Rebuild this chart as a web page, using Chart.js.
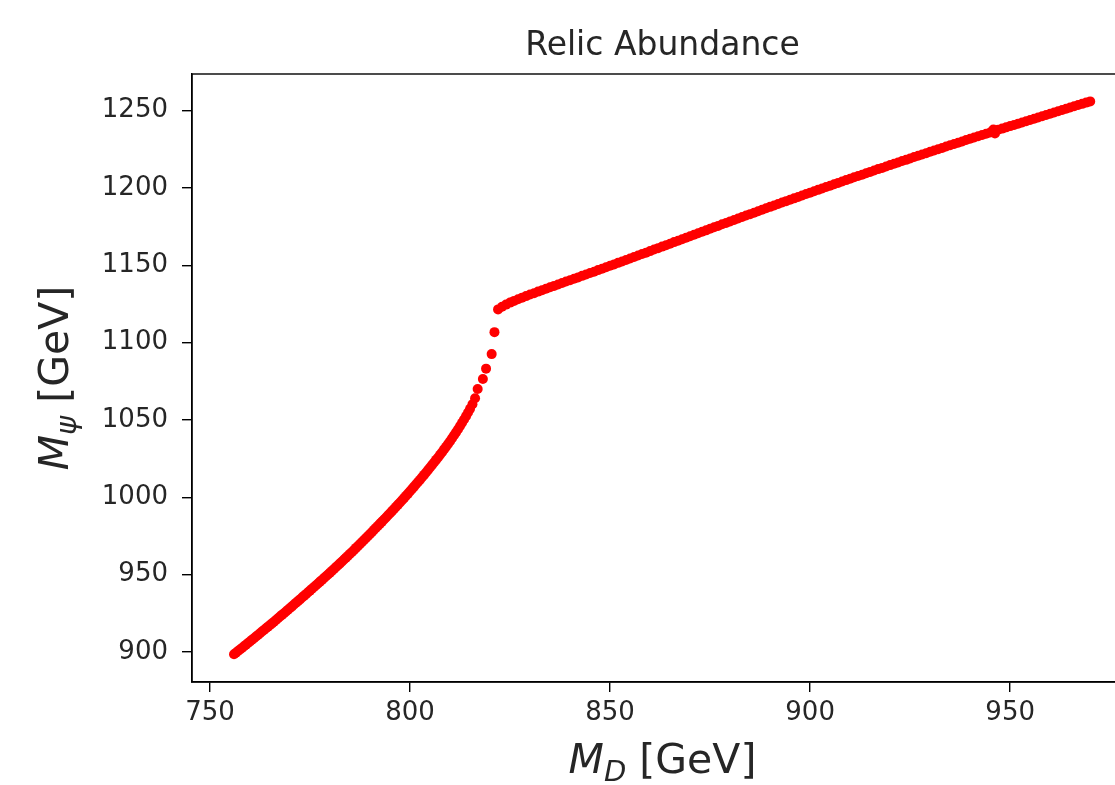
<!DOCTYPE html>
<html>
<head>
<meta charset="utf-8">
<title>Relic Abundance</title>
<script src="https://cdn.jsdelivr.net/npm/chart.js@4.4.0/dist/chart.umd.min.js"></script>
<style>
    html, body { margin: 0; padding: 0; background: #fff; overflow: hidden; }
    #wrap { position: relative; width: 1160px; height: 785px; }
</style>
</head>
<body>
<div id="wrap"><canvas id="relicChart"></canvas></div>
<script>
// lower branch (M_D, M_psi) in GeV
const mdLower = [
    756.0, 756.5, 757.0, 757.5, 758.0, 758.5, 759.0, 759.5, 760.0, 760.5,
    761.0, 761.5, 762.0, 762.5, 763.0, 763.5, 764.0, 764.5, 765.0, 765.5,
    766.0, 766.5, 767.0, 767.5, 768.0, 768.5, 769.0, 769.5, 770.0, 770.5,
    771.0, 771.5, 772.0, 772.5, 773.0, 773.5, 774.0, 774.5, 775.0, 775.5,
    776.0, 776.5, 777.0, 777.5, 778.0, 778.5, 779.0, 779.5, 780.0, 780.5,
    781.0, 781.5, 782.0, 782.5, 783.0, 783.5, 784.0, 784.5, 785.0, 785.5,
    786.0, 786.5, 787.0, 787.5, 788.0, 788.5, 789.0, 789.5, 790.0, 790.5,
    791.0, 791.5, 792.0, 792.5, 793.0, 793.5, 794.0, 794.5, 795.0, 795.5,
    796.0, 796.5, 797.0, 797.5, 798.0, 798.5, 799.0, 799.5, 800.0, 800.5,
    801.0, 801.5, 802.0, 802.5, 803.0, 803.5, 804.0, 804.5, 805.0, 805.5,
    806.0, 806.5, 807.0, 807.5, 808.0, 808.5, 809.0, 809.5, 810.0, 810.5,
    811.0, 811.5, 812.0, 812.5, 813.0, 813.5, 814.0, 814.5
];
const psiLower = [
    898.5, 899.5, 900.6, 901.6, 902.6, 903.7, 904.7, 905.8, 906.8, 907.9,
    908.9, 910.0, 911.0, 912.1, 913.2, 914.2, 915.3, 916.4, 917.5, 918.5,
    919.6, 920.7, 921.8, 922.9, 924.0, 925.1, 926.2, 927.3, 928.4, 929.5,
    930.7, 931.8, 932.9, 934.0, 935.2, 936.3, 937.4, 938.6, 939.7, 940.9,
    942.0, 943.2, 944.3, 945.5, 946.6, 947.8, 949.0, 950.1, 951.3, 952.5,
    953.7, 954.9, 956.1, 957.3, 958.5, 959.8, 961.0, 962.2, 963.5, 964.7,
    966.0, 967.3, 968.5, 969.8, 971.1, 972.4, 973.7, 975.0, 976.3, 977.6,
    979.0, 980.3, 981.6, 983.0, 984.3, 985.7, 987.0, 988.4, 989.7, 991.1,
    992.5, 993.9, 995.3, 996.7, 998.1, 999.5, 1001.0, 1002.4, 1003.9, 1005.4,
    1006.9, 1008.4, 1009.9, 1011.4, 1013.0, 1014.5, 1016.1, 1017.7, 1019.3, 1020.9,
    1022.5, 1024.2, 1025.8, 1027.5, 1029.2, 1031.0, 1032.7, 1034.5, 1036.3, 1038.2,
    1040.1, 1042.0, 1044.0, 1046.1, 1048.2, 1050.3, 1052.5, 1054.8
];

// sparse points in the steep part
const mdJump = [815.0, 815.6, 816.25, 816.9, 818.2, 819.0, 820.4, 821.1];
const psiJump = [1057.2, 1060.2, 1064.0, 1070.0, 1076.5, 1083.2, 1092.6, 1106.8];

// upper branch
const mdUpper = [
    822, 823, 824, 825, 826, 827, 828, 829, 830, 831, 832, 833, 834, 835, 836, 837, 838, 839, 840,
    841, 842, 843, 844, 845, 846, 847, 848, 849, 850, 851, 852, 853, 854, 855, 856, 857, 858, 859, 860,
    861, 862, 863, 864, 865, 866, 867, 868, 869, 870, 871, 872, 873, 874, 875, 876, 877, 878, 879, 880,
    881, 882, 883, 884, 885, 886, 887, 888, 889, 890, 891, 892, 893, 894, 895, 896, 897, 898, 899, 900,
    901, 902, 903, 904, 905, 906, 907, 908, 909, 910, 911, 912, 913, 914, 915, 916, 917, 918, 919, 920,
    921, 922, 923, 924, 925, 926, 927, 928, 929, 930, 931, 932, 933, 934, 935, 936, 937, 938, 939, 940,
    941, 942, 943, 944, 945, 945.8, 946.2, 946, 947, 948, 949, 950, 951, 952, 953, 954, 955, 956, 957,
    958, 959, 960, 961, 962, 963, 964, 965, 966, 967, 968, 969, 970
];
const psiUpper = [
    1121.5, 1123.2, 1124.6, 1125.9, 1127.0, 1128.1, 1129.1, 1130.1, 1131.1, 1132.0, 1133.0, 1133.9, 1134.9, 1135.8, 1136.7, 1137.6, 1138.6, 1139.5, 1140.4,
    1141.3, 1142.2, 1143.2, 1144.1, 1145.0, 1145.9, 1146.9, 1147.8, 1148.8, 1149.7, 1150.6, 1151.6, 1152.5, 1153.5, 1154.4, 1155.4, 1156.3, 1157.3, 1158.2, 1159.2,
    1160.2, 1161.1, 1162.1, 1163.0, 1164.0, 1165.0, 1165.9, 1166.9, 1167.8, 1168.8, 1169.8, 1170.7, 1171.7, 1172.6, 1173.6, 1174.6, 1175.5, 1176.5, 1177.4, 1178.4,
    1179.3, 1180.3, 1181.2, 1182.2, 1183.1, 1184.0, 1185.0, 1185.9, 1186.9, 1187.8, 1188.7, 1189.6, 1190.6, 1191.5, 1192.4, 1193.3, 1194.2, 1195.2, 1196.1, 1197.0,
    1197.9, 1198.8, 1199.7, 1200.6, 1201.5, 1202.4, 1203.3, 1204.2, 1205.1, 1206.0, 1206.9, 1207.8, 1208.6, 1209.5, 1210.4, 1211.3, 1212.2, 1213.0, 1213.9, 1214.8,
    1215.7, 1216.5, 1217.4, 1218.2, 1219.1, 1220.0, 1220.8, 1221.7, 1222.5, 1223.4, 1224.2, 1225.1, 1225.9, 1226.8, 1227.6, 1228.4, 1229.3, 1230.1, 1231.0, 1231.8,
    1232.6, 1233.4, 1234.3, 1235.1, 1235.9, 1237.8, 1235.2, 1236.7, 1237.6, 1238.4, 1239.2, 1240.0, 1240.8, 1241.6, 1242.4, 1243.2, 1244.0, 1244.8, 1245.6,
    1246.4, 1247.2, 1248.0, 1248.8, 1249.6, 1250.4, 1251.2, 1252.0, 1252.8, 1253.6, 1254.4, 1255.2, 1256.0
];

const xTicks = [750, 800, 850, 900, 950];
const yTicks = [900, 950, 1000, 1050, 1100, 1150, 1200, 1250];

const md = mdLower.concat(mdJump, mdUpper);
const psi = psiLower.concat(psiJump, psiUpper);
const points = md.map((x, i) => ({ x: x, y: psi[i] }));

const FONT = "'DejaVu Sans', sans-serif";
const TEXT = '#262626';

// draws pieces of text (with optional subscript) centred on cx at baseline y
function drawParts(ctx, parts, cx, y) {
    let total = 0;
    parts.forEach(p => { ctx.font = p.font; total += ctx.measureText(p.text).width; });
    let x = cx - total / 2;
    parts.forEach(p => {
        ctx.font = p.font;
        ctx.fillText(p.text, x, y + (p.dy || 0));
        x += ctx.measureText(p.text).width;
    });
}

const framePlugin = {
    id: 'frame',
    beforeDatasetsDraw(chart) {
        const a = chart.chartArea, ctx = chart.ctx;
        ctx.save();
        ctx.strokeStyle = '#000';
        ctx.lineWidth = 1.4;
        ctx.strokeRect(a.left, a.top, a.right - a.left, a.bottom - a.top);
        ctx.restore();
    },
    afterDraw(chart) {
        const a = chart.chartArea, ctx = chart.ctx;
        const cx = (a.left + a.right) / 2;
        ctx.save();
        ctx.fillStyle = TEXT;
        ctx.textBaseline = 'alphabetic';
        ctx.textAlign = 'left';

        ctx.font = '33px ' + FONT;
        const tw = ctx.measureText('Relic Abundance').width;
        ctx.fillText('Relic Abundance', cx - tw / 2, 55);

        const big = '41px ' + FONT, it = 'italic 41px ' + FONT, sub = 'italic 29px ' + FONT;
        drawParts(ctx, [
            { text: 'M', font: it },
            { text: 'D', font: sub, dy: 8 },
            { text: ' [GeV]', font: big }
        ], cx, 773);

        ctx.translate(68, (a.top + a.bottom) / 2);
        ctx.rotate(-Math.PI / 2);
        drawParts(ctx, [
            { text: 'M', font: it },
            { text: 'ψ', font: sub, dy: 8 },
            { text: ' [GeV]', font: big }
        ], 0, 0);
        ctx.restore();
    }
};

new Chart(document.getElementById('relicChart'), {
    type: 'scatter',
    data: {
        datasets: [{
            data: points,
            backgroundColor: '#ff0000',
            borderWidth: 0,
            pointRadius: 5,
            pointHoverRadius: 5
        }]
    },
    options: {
        responsive: true,
        maintainAspectRatio: false,
        animation: false,
        layout: { padding: { left: 0, right: 27, top: 74, bottom: 0 } },
        plugins: {
            legend: { display: false },
            tooltip: { enabled: false }
        },
        scales: {
            x: {
                type: 'linear',
                min: 745.5,
                max: 980.7,
                afterBuildTicks: s => { s.ticks = xTicks.map(v => ({ value: v })); },
                afterFit: s => { s.height = 103; },
                grid: { drawOnChartArea: false, tickLength: 10, color: '#000', lineWidth: 1.4 },
                border: { color: '#000', width: 1.4 },
                ticks: {
                    color: TEXT, font: { family: FONT, size: 26 }, padding: 6, maxRotation: 0,
                    callback: v => String(v)
                }
            },
            y: {
                type: 'linear',
                min: 880.6,
                max: 1273.7,
                afterBuildTicks: s => { s.ticks = yTicks.map(v => ({ value: v })); },
                afterFit: s => { s.width = 192; },
                grid: { drawOnChartArea: false, tickLength: 10, color: '#000', lineWidth: 1.4 },
                border: { color: '#000', width: 1.4 },
                ticks: {
                    color: TEXT, font: { family: FONT, size: 26 }, padding: 14,
                    callback: v => String(v)
                }
            }
        }
    },
    plugins: [framePlugin]
});
</script>
</body>
</html>
